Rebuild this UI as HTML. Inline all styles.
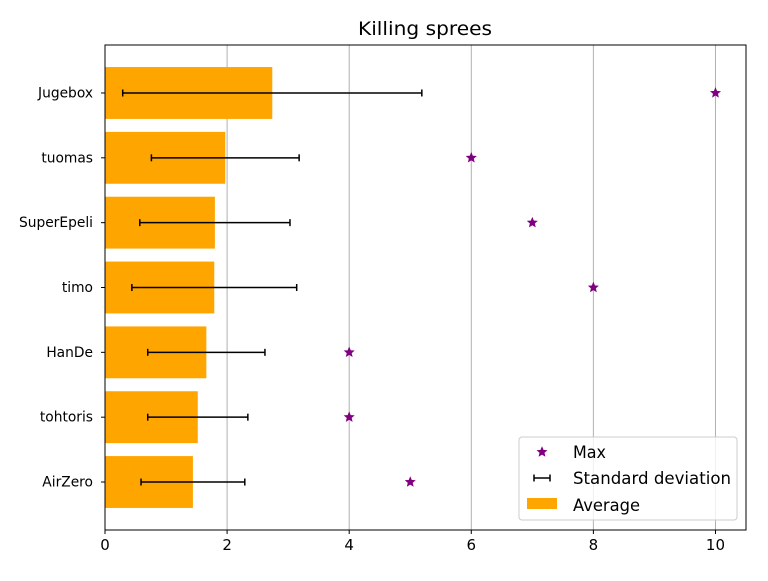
<!DOCTYPE html>
<html><head><meta charset="utf-8"><style>
body{margin:0;background:#fff;font-family:"Liberation Sans","DejaVu Sans",sans-serif}
svg text{font-family:"DejaVu Sans","Liberation Sans",sans-serif}
</style></head><body>
<svg id="chart" width="768" height="576" xmlns="http://www.w3.org/2000/svg"></svg>
<script>
const categories=["Jugebox","tuomas","SuperEpeli","timo","HanDe","tohtoris","AirZero"];
const averages=[2.74,1.97,1.80,1.79,1.66,1.52,1.44];
const stds=[2.45,1.21,1.23,1.35,0.96,0.82,0.85];
const maxima=[10,6,7,8,4,4,5];
const xTicks=[0,2,4,6,8,10];
const NS="http://www.w3.org/2000/svg";
const svg=document.getElementById('chart');
const L=105,R=746,T=45,B=530;
const xmin=0,xmax=10.5;
const ymin=-0.74,ymax=6.74;
function xs(v){return L+(v-xmin)/(xmax-xmin)*(R-L);}
function ys(i){return T+(i-ymin)/(ymax-ymin)*(B-T);}
function el(tag,attrs,parent){const e=document.createElementNS(NS,tag);for(const k in attrs)e.setAttribute(k,attrs[k]);(parent||svg).appendChild(e);return e;}
xTicks.forEach(t=>{const g=el('line',{x1:xs(t),x2:xs(t),y1:T,y2:B,stroke:'#b0b0b0','stroke-width':1});

});
categories.forEach((c,i)=>{
const b=el('rect',{x:xs(0),y:ys(i)-0.4*(ys(1)-ys(0)),width:xs(averages[i])-xs(0),height:0.8*(ys(1)-ys(0)),fill:'#ffa500'});


});
categories.forEach((c,i)=>{
const y=ys(i),a=xs(averages[i]-stds[i]),b=xs(averages[i]+stds[i]);
const g=el('g',{stroke:'#000','stroke-width':1.5});


el('line',{x1:a,x2:b,y1:y,y2:y},g);
el('line',{x1:a,x2:a,y1:y-3.5,y2:y+3.5},g);
el('line',{x1:b,x2:b,y1:y-3.5,y2:y+3.5},g);
});
function star(cx,cy,r,parent){let p='';for(let k=0;k<10;k++){const rr=k%2?r*0.45:r;const a=-Math.PI/2+k*Math.PI/5;p+=(k?'L':'M')+(cx+rr*Math.cos(a)).toFixed(2)+' '+(cy+rr*Math.sin(a)).toFixed(2);}return el('path',{d:p+'Z',fill:'#800080',stroke:'#800080','stroke-width':1},parent);}
categories.forEach((c,i)=>{const s=star(xs(maxima[i]),ys(i),4.5);

});
const box=el('rect',{x:L,y:T,width:R-L,height:B-T,fill:'none',stroke:'#000','stroke-width':1});


xTicks.forEach(t=>{el('line',{x1:xs(t),x2:xs(t),y1:B,y2:B+4,stroke:'#000'});
const tx=el('text',{x:xs(t),y:B+20,'text-anchor':'middle','font-size':15,fill:'#000'});tx.textContent=t;

});
categories.forEach((c,i)=>{el('line',{x1:L-4,x2:L,y1:ys(i),y2:ys(i),stroke:'#000'});
const tx=el('text',{x:L-12,y:ys(i)+4.5,'text-anchor':'end','font-size':13.8,fill:'#000'});tx.textContent=c;

});
const title=el('text',{x:358,y:35,'font-size':19,fill:'#000',textLength:134,lengthAdjust:'spacingAndGlyphs'});title.textContent='Killing sprees';


const lg=el('g',{});


el('rect',{x:519,y:437,width:218,height:83,rx:3,fill:'#fff','fill-opacity':0.8,stroke:'#ccc'},lg);
star(542,452,4.5,lg);
const t1=el('text',{x:573,y:458,'font-size':16.5,textLength:33,lengthAdjust:'spacingAndGlyphs'},lg);t1.textContent='Max';
el('line',{x1:534,x2:550,y1:478,y2:478,stroke:'#000','stroke-width':1.5},lg);
el('line',{x1:534,x2:534,y1:474.5,y2:481.5,stroke:'#000','stroke-width':1.5},lg);
el('line',{x1:550,x2:550,y1:474.5,y2:481.5,stroke:'#000','stroke-width':1.5},lg);
const t2=el('text',{x:573,y:484,'font-size':16.5,textLength:158,lengthAdjust:'spacingAndGlyphs'},lg);t2.textContent='Standard deviation';
el('rect',{x:527,y:498,width:30,height:11,fill:'#ffa500'},lg);
const t3=el('text',{x:573,y:511,'font-size':16.5,textLength:67,lengthAdjust:'spacingAndGlyphs'},lg);t3.textContent='Average';
</script>
</body></html>
